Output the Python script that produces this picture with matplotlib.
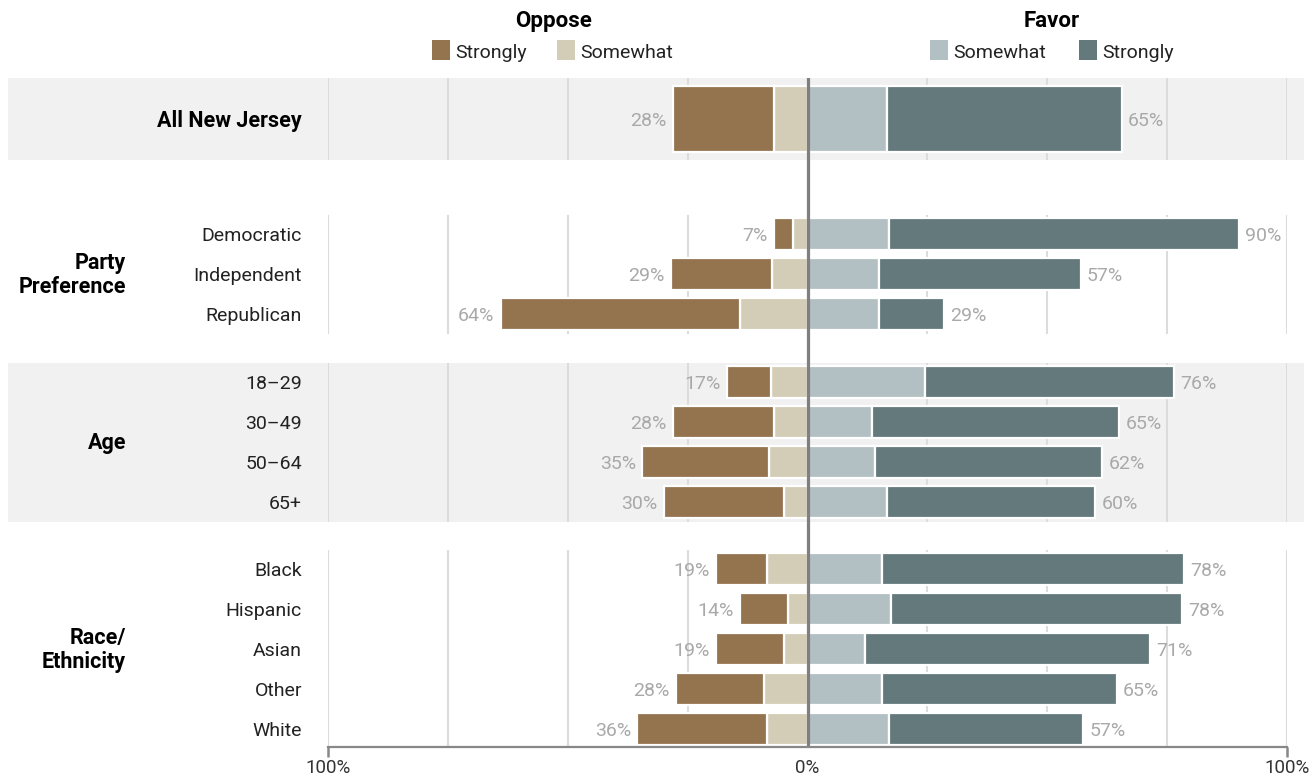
import matplotlib
matplotlib.use('Agg')
import matplotlib.pyplot as plt
from matplotlib.transforms import blended_transform_factory
from matplotlib.patches import Rectangle

plt.rcParams['font.family'] = ['Roboto', 'DejaVu Sans']

# ---------------- data ----------------
categories = ['All New Jersey', 'Democratic', 'Independent', 'Republican',
              '18–29', '30–49', '50–64', '65+',
              'Black', 'Hispanic', 'Asian', 'Other', 'White']
group_names = ['', 'Party\nPreference', 'Age', 'Race/\nEthnicity']
group_of = [0, 1, 1, 1, 2, 2, 2, 2, 3, 3, 3, 3, 3]
oppose_strongly = [21, 4, 21, 50, 9, 21, 26.5, 25, 10.5, 10, 14, 18.5, 27]
oppose_somewhat = [7, 3, 7.5, 14, 7.7, 7, 8, 5, 8.5, 4, 5, 9, 8.5]
favor_somewhat = [16.5, 17, 15, 15, 24.5, 13.5, 14, 16.5, 15.5, 17.5, 12, 15.5, 17]
favor_strongly = [49, 73, 42, 13.5, 52, 51.5, 47.5, 43.5, 63, 60.5, 59.5, 49, 40.5]
oppose_total = [28, 7, 29, 64, 17, 28, 35, 30, 19, 14, 19, 28, 36]
favor_total = [65, 90, 57, 29, 76, 65, 62, 60, 78, 78, 71, 65, 57]
tick_values = [-100, 0, 100]
tick_labels = ['100%', '0%', '100%']
legend_left = ['Strongly', 'Somewhat']
legend_right = ['Somewhat', 'Strongly']

# ---------------- style ----------------
C_OS = '#94744f'
C_OW = '#d3ccb6'
C_FW = '#b3c0c3'
C_FS = '#63797c'
C_GRID = '#dcdcdc'
C_BAND = '#f1f1f1'
C_LBL = '#a9a9a9'

W, H = 1310, 778
fig = plt.figure(figsize=(W / 100, H / 100), dpi=100)
fig.patch.set_facecolor('white')

def fx(x):
    return x / W

def fy(y):
    return 1 - y / H

ax = fig.add_axes([fx(328), fy(747), fx(1287) - fx(328), fy(78) - fy(747)])
ax.set_facecolor('none')

# layout of rows (row units; one row = 40 px)
group_start = {0: 0.0, 1: 2.875, 2: 6.575, 3: 11.25}
ypos = []
for i, g in enumerate(group_of):
    k = sum(1 for j in range(i) if group_of[j] == g)
    ypos.append(group_start[g] + k)

y_top, y_bot = -1.025, 15.7
ax.set_xlim(-100, 100)
ax.set_ylim(y_bot, y_top)

# group panels
panels = []
for g in range(4):
    ys = [ypos[i] for i in range(len(ypos)) if group_of[i] == g]
    if g == 0:
        panels.append((y_top, 1.025))
    elif g == 3:
        panels.append((min(ys) - 0.475, y_bot))
    else:
        panels.append((min(ys) - 0.475, max(ys) + 0.5))

# gray bands for All NJ and Age
bt = blended_transform_factory(fig.transFigure, ax.transData)
for g in (0, 2):
    a, b = panels[g]
    ax.add_patch(Rectangle((fx(8), a), fx(1304) - fx(8), b - a, transform=bt,
                           facecolor=C_BAND, edgecolor='none', clip_on=False, zorder=0))

# gridlines per panel
grid_x = [-100, -75, -50, -25, 25, 50, 75, 100]
for a, b in panels:
    ax.vlines(grid_x, a, b, colors=C_GRID, linewidth=1.5, zorder=1)

# bars
for i in range(len(categories)):
    h = 1.67 if group_of[i] == 0 else 0.8
    y = ypos[i]
    os_, ow = oppose_strongly[i], oppose_somewhat[i]
    fw, fs = favor_somewhat[i], favor_strongly[i]
    kw = dict(height=h, edgecolor='white', linewidth=1.6, zorder=3)
    ax.barh(y, -ow, left=0, color=C_OW, **kw)
    ax.barh(y, -os_, left=-ow, color=C_OS, **kw)
    ax.barh(y, fw, left=0, color=C_FW, **kw)
    ax.barh(y, fs, left=fw, color=C_FS, **kw)
    ax.annotate(f'{oppose_total[i]}%', (-(os_ + ow), y), xytext=(-4.5, 0),
                textcoords='offset points', ha='right', va='center_baseline',
                color=C_LBL, fontsize=14, zorder=4)
    ax.annotate(f'{favor_total[i]}%', (fw + fs, y), xytext=(4.5, 0),
                textcoords='offset points', ha='left', va='center_baseline',
                color=C_LBL, fontsize=14, zorder=4)

# center line
ax.axvline(0, color='#7f7f7f', linewidth=2.3, zorder=5)

# row labels and group labels
lt = blended_transform_factory(fig.transFigure, ax.transData)
for i, name in enumerate(categories):
    if group_of[i] == 0:
        ax.text(fx(302), ypos[i], name, transform=lt, ha='right',
                va='center_baseline', fontsize=15.5, fontweight='bold',
                color='black')
    else:
        ax.text(fx(302), ypos[i], name, transform=lt, ha='right',
                va='center_baseline', fontsize=14, color='#222222')
for g in (1, 2, 3):
    ys = [ypos[i] for i in range(len(ypos)) if group_of[i] == g]
    ax.text(fx(126), (min(ys) + max(ys)) / 2 + 0.03, group_names[g], transform=lt,
            ha='right', va='center', fontsize=15.5, fontweight='bold',
            color='black', linespacing=1.1)

# axis
for s in ('top', 'left', 'right'):
    ax.spines[s].set_visible(False)
ax.spines['bottom'].set_color('#888888')
ax.spines['bottom'].set_linewidth(1.6)
ax.spines['bottom'].set_zorder(6)
ax.set_yticks([])
ax.set_xticks(tick_values)
ax.set_xticklabels(tick_labels, fontsize=13.5, color='#333333')
ax.tick_params(axis='x', length=7, width=1.8, color='#888888', pad=1.5)
ax.xaxis.get_major_ticks()[1].tick1line.set_visible(False)

# legend
fig.text(fx(554), fy(21), 'Oppose', ha='center', va='center', fontsize=16,
         fontweight='bold', color='black')
fig.text(fx(1052), fy(21), 'Favor', ha='center', va='center', fontsize=16,
         fontweight='bold', color='black')
legend_items = [(432, C_OS, legend_left[0]), (557, C_OW, legend_left[1]),
                (930, C_FW, legend_right[0]), (1079, C_FS, legend_right[1])]
for x0, c, t in legend_items:
    fig.patches.append(Rectangle((fx(x0), fy(60)), fx(18), 20 / H,
                                 transform=fig.transFigure, facecolor=c,
                                 edgecolor='none'))
    fig.text(fx(x0 + 23), fy(51), t, ha='left', va='center_baseline', fontsize=14,
             color='#222222')

fig.savefig('out.png', dpi=100)
